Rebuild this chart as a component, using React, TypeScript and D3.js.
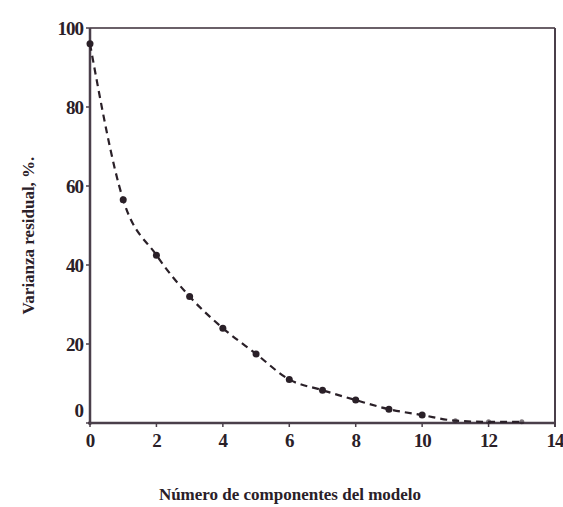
import React from "react";
import * as d3 from "d3";

const components = [0, 1, 2, 3, 4, 5, 6, 7, 8, 9, 10, 11, 12, 13];
const residualVariance = [96, 56.5, 42.5, 32, 24, 17.5, 11, 8.3, 5.8, 3.5, 2, 0.6, 0.3, 0.3];
const xTicks = [0, 2, 4, 6, 8, 10, 12, 14];
const yTicks = [0, 20, 40, 60, 80, 100];

const W = 563, H = 507;
const M = { left: 90, right: 555, top: 28, bottom: 423 };

export default function App() {
  const x = d3.scaleLinear().domain([0, 14]).range([M.left, M.right]);
  const y = d3.scaleLinear().domain([0, 100]).range([M.bottom, M.top]);
  const line = d3
    .line<number>()
    .x((_, i) => x(components[i]))
    .y((d) => y(d))
    .curve(d3.curveMonotoneX);
  const axisColor = "#4a3f4a";
  const ink = "#2a2028";
  const font = "'Liberation Serif', 'Times New Roman', serif";
  return (
    <svg width={W} height={H} style={{ position: "absolute", left: 0, top: 0, background: "#fff" }}>
      {/* frame */}
      <line x1={M.left} x2={M.right} y1={M.top} y2={M.top} stroke="#6a6068" strokeWidth={2} />
      <line x1={M.right} x2={M.right} y1={M.top} y2={M.bottom + 4} stroke={axisColor} strokeWidth={2} />
      <line x1={M.left} x2={M.left} y1={M.top} y2={M.bottom + 2} stroke={axisColor} strokeWidth={2.5} />
      <line x1={M.left - 2} x2={M.right} y1={M.bottom} y2={M.bottom} stroke={axisColor} strokeWidth={2.5} />
      {/* y ticks */}
      {yTicks.map((t) => (
        <g key={"y" + t}>
          <line x1={M.left - 4} x2={M.left} y1={y(t)} y2={y(t)} stroke={axisColor} strokeWidth={1.5} />
          <text
            x={M.left - 7}
            y={t === 0 ? y(t) - 13 : y(t)}
            dy="0.36em"
            textAnchor="end"
            fontFamily={font}
            fontWeight="bold"
            fontSize={19}
            fill={ink}
            letterSpacing={-1}
          >
            {t}
          </text>
        </g>
      ))}
      {/* x ticks */}
      {xTicks.map((t) => (
        <g key={"x" + t}>
          <line x1={x(t)} x2={x(t)} y1={M.bottom} y2={M.bottom + 4} stroke={axisColor} strokeWidth={1.5} />
          <text
            x={x(t)}
            y={M.bottom + 24}
            textAnchor="middle"
            fontFamily={font}
            fontWeight="bold"
            fontSize={19}
            fill={ink}
            letterSpacing={-1}
          >
            {t}
          </text>
        </g>
      ))}
      {/* series */}
      <path d={line(residualVariance) || ""} fill="none" stroke={ink} strokeWidth={2.2} strokeDasharray="7,5" />
      {residualVariance.map((v, i) => (
        <circle key={i} cx={x(components[i])} cy={y(v)} r={i >= 11 ? 2.5 : 3.5} fill={ink} opacity={i >= 11 ? 0.6 : 1} />
      ))}
      {/* axis titles */}
      <text
        transform={`translate(34, ${(M.top + M.bottom) / 2 + 10}) rotate(-90)`}
        textAnchor="middle"
        fontFamily={font}
        fontSize={17}
        fontWeight={600}
        fill={ink}
      >
        Varianza residual, %.
      </text>
      <text x={290} y={500} textAnchor="middle" fontFamily={font} fontSize={17} fontWeight={600} fill={ink}>
        Número de componentes del modelo
      </text>
    </svg>
  );
}
